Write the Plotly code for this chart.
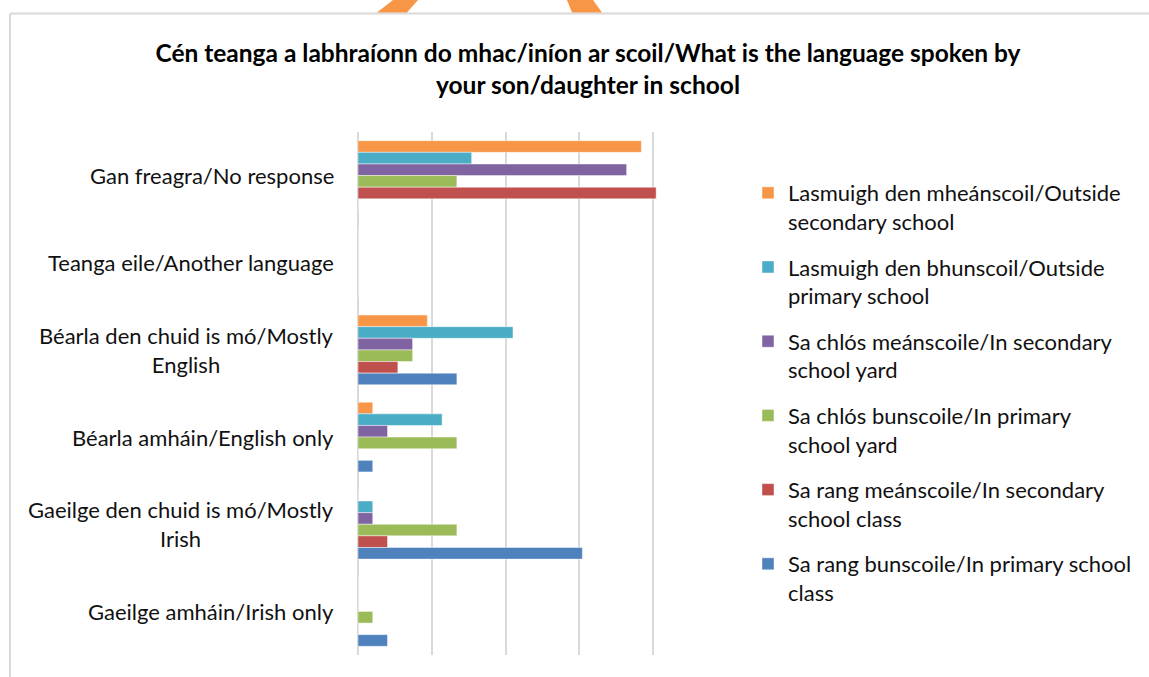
import plotly.graph_objects as go

# Language spoken by child in school - grouped horizontal bars
categories = [
    "Gan freagra/No response",
    "Teanga eile/Another language",
    "Béarla den chuid is mó/Mostly<br>English",
    "Béarla amháin/English only",
    "Gaeilge den chuid is mó/Mostly<br>Irish",
    "Gaeilge amháin/Irish only",
]

series_names = [
    "Lasmuigh den mheánscoil/Outside<br>secondary school",
    "Lasmuigh den bhunscoil/Outside<br>primary school",
    "Sa chlós meánscoile/In secondary<br>school yard",
    "Sa chlós bunscoile/In primary<br>school yard",
    "Sa rang meánscoile/In secondary<br>school class",
    "Sa rang bunscoile/In primary school<br>class",
]

# values (gridline = 5)
outside_secondary = [19.2, 0, 4.7, 1.0, 0, 0]
outside_primary = [7.7, 0, 10.5, 5.7, 1.0, 0]
yard_secondary = [18.2, 0, 3.7, 2.0, 1.0, 0]
yard_primary = [6.7, 0, 3.7, 6.7, 6.7, 1.0]
class_secondary = [20.2, 0, 2.7, 0, 2.0, 0]
class_primary = [0, 0, 6.7, 1.0, 15.2, 2.0]

series_values = [outside_secondary, outside_primary, yard_secondary,
                 yard_primary, class_secondary, class_primary]
colors = ["#f79646", "#4bacc6", "#8064a2", "#9bbb59", "#c0504d", "#4f81bd"]

W, H = 1149, 677
L, R, T, B = 358, 727, 132, 655


def px(x, y):
    # pixel -> paper coords
    return (x - L) / (R - L), (B - y) / (B - T)


fig = go.Figure()
for i, (name, vals) in enumerate(zip(series_names, series_values)):
    fig.add_trace(go.Bar(
        y=categories, x=vals, name=name, orientation="h",
        marker=dict(color=colors[i], line=dict(color="rgba(255,255,255,0.45)", width=1)),
        legendgroup=str(i),
    ))

# category labels as annotations so wrapped lines stay centred
for c in categories:
    fig.add_annotation(x=0, y=c, xref="paper", yref="y", text=c, showarrow=False,
                       xanchor="right", xshift=-22, align="center",
                       font=dict(family="Lato", size=22, color="#111111"))

# chart border + the bits of orange logo poking in at the top
shapes = [
    dict(type="line", xref="paper", yref="paper",
         x0=px(10, 13.5)[0], y0=px(10, 13.5)[1], x1=px(10, 677)[0], y1=px(10, 677)[1],
         line=dict(color="#d9d9d9", width=2)),
    dict(type="line", xref="paper", yref="paper",
         x0=px(10, 13.5)[0], y0=px(10, 13.5)[1], x1=px(1149, 13.5)[0], y1=px(1149, 13.5)[1],
         line=dict(color="#d9d9d9", width=2)),
]
for pts in ([(393, 0), (418, 0), (407, 12.5), (377, 12.5)],
            [(567, 0), (593, 0), (602, 12.5), (572, 12.5)]):
    p = [px(a, b) for a, b in pts]
    path = "M " + " L ".join(f"{a},{b}" for a, b in p) + " Z"
    shapes.append(dict(type="path", xref="paper", yref="paper", path=path,
                       fillcolor="#f79646", line=dict(width=0)))

fig.update_layout(
    width=W, height=H,
    margin=dict(l=L, r=W - R, t=T, b=H - B),
    paper_bgcolor="white", plot_bgcolor="white",
    barmode="group", bargap=0.2, bargroupgap=0,
    title=dict(
        text="Cén teanga a labhraíonn do mhac/iníon ar scoil/What is the language spoken by<br>your son/daughter in school",
        x=588 / W, xanchor="center", y=1 - 62 / H, yanchor="middle",
        font=dict(family="Lato", size=24.5, color="black", weight="bold"),
    ),
    xaxis=dict(range=[0, 25], dtick=5, showgrid=True, gridcolor="#d9d9d9", gridwidth=2,
               showticklabels=False, zeroline=True, zerolinecolor="#d9d9d9", zerolinewidth=2,
               fixedrange=True),
    yaxis=dict(autorange="reversed", showticklabels=False, showgrid=False, fixedrange=True),
    legend=dict(x=px(748, 0)[0], xanchor="left", y=px(0, 172)[1], yanchor="top",
                font=dict(family="Lato", size=22, color="#111111"),
                tracegroupgap=14, valign="top", itemwidth=30, bgcolor="rgba(0,0,0,0)"),
    shapes=shapes,
    showlegend=True,
)

# drop the default body margin so the figure sits at the page origin
fig.write_html("out.html", config={"displayModeBar": False},
               post_script="document.body.style.margin='0';")
